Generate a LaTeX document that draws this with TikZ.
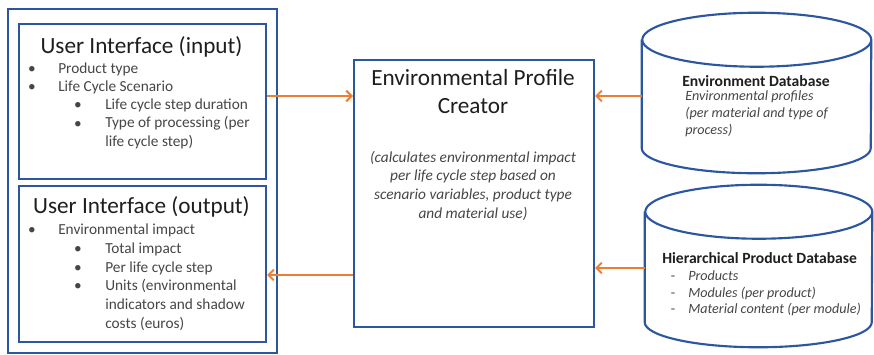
\documentclass[tikz,border=0pt]{standalone}
\usepackage{fontspec}
\setmainfont{Carlito}
\usetikzlibrary{arrows.meta}

\definecolor{boxblue}{RGB}{44,87,160}
\definecolor{flowor}{RGB}{237,125,49}
\definecolor{headgray}{RGB}{30,30,30}
\definecolor{itemgray}{RGB}{70,70,70}

\newcommand{\pix}{0.75pt}

\tikzset{
	frame/.style={draw=boxblue, line width=1.6pt, fill=white, anchor=north west, inner sep=0pt},
	dbbody/.style={inner sep=0pt},
	dbline/.style={draw=boxblue, line width=1.6pt},
	flow/.style={draw=flowor, line width=1.5pt, -{Straight Barb[length=4pt,width=8pt]}},
	head/.style={inner sep=0pt, text=headgray, font=\fontsize{17.4}{21}\selectfont},
	item/.style={anchor=base west, inner sep=0pt, align=left, text=itemgray, font=\fontsize{11.5}{13.7}\selectfont},
	dot/.style={anchor=base, inner sep=0pt, text=itemgray, font=\fontsize{11.5}{13.7}\selectfont},
	dbhead/.style={anchor=base west, inner sep=0pt, text=headgray, font=\fontsize{11.7}{14}\selectfont\bfseries},
	dbtext/.style={anchor=base west, inner sep=0pt, align=left, text=itemgray, font=\fontsize{10.6}{12.4}\selectfont\itshape}
}

% cylinder outline around a named body node: #1 node, #2 half width, #3 top radius, #4 bottom radius
\newcommand{\dbdrum}[4]{
	\draw[dbline] ([yshift=-#3*\pix]#1.north west) -- ([yshift=#4*\pix]#1.south west)
		arc[start angle=180, end angle=360, x radius=#2*\pix, y radius=#4*\pix]
		-- ([yshift=-#3*\pix]#1.north east)
		arc[start angle=0, end angle=180, x radius=#2*\pix, y radius=#3*\pix]
		arc[start angle=180, end angle=360, x radius=#2*\pix, y radius=#3*\pix];
}

\begin{document}
\begin{tikzpicture}[x=0.75pt, y=-0.75pt]
		\useasboundingbox (0,0) rectangle (874,354);
		
		% user interface panels
		\node[frame, minimum width=269*\pix, minimum height=344*\pix] (ui) at (7,8) {};
		\node[frame, minimum width=247*\pix, minimum height=155*\pix] (uiin) at (18,23) {};
		\node[frame, minimum width=247*\pix, minimum height=156*\pix] (uiout) at (18,185) {};
		
		\node[head, anchor=base] (intitle) at (141.5,53) {User Interface (input)};
		\foreach \y/\t in {73/Product type, 91/Life Cycle Scenario}
		{
			\node[dot] (indot\y) at (32,\y) {•};
			\node[item] (initem\y) at (58,\y) {\t};
		}
		\node[dot] (indot109) at (78,109) {•};
		\node[item] (initem109) at (105,109) {Life cycle step duration};
		\node[dot] (indot128) at (78,128) {•};
		% multi-line nodes sit on their last baseline
		\node[item] (initem128) at (105,146) {Type of processing (per\\life cycle step)};
		
		\node[head, anchor=base] (outtitle) at (141.5,213) {User Interface (output)};
		\node[dot] (outdot234) at (32,234) {•};
		\node[item] (outitem234) at (58,234) {Environmental impact};
		\foreach \y/\t in {253/Total impact, 272/Per life cycle step}
		{
			\node[dot] (outdot\y) at (78,\y) {•};
			\node[item] (outitem\y) at (105,\y) {\t};
		}
		\node[dot] (outdot290) at (78,290) {•};
		\node[item, font=\fontsize{11.5}{14.2}\selectfont] (outitem290) at (105,328) {Units (environmental\\indicators and shadow\\costs (euros)};
		
		% profile creator
		\node[frame, minimum width=240*\pix, minimum height=267*\pix] (epc) at (353,59) {};
		\node[head, anchor=base, align=center] (epctitle) at (473,113) {Environmental Profile\\Creator};
		\node[item, anchor=base, align=center, font=\fontsize{11.5}{14}\selectfont\itshape] (epcnote) at (473,218)
			{(calculates environmental impact\\per life cycle step based on\\scenario variables, product type\\and material use)};
		
		% databases
		\node[dbbody, minimum width=229*\pix, minimum height=160*\pix] (envdb) at (756.5,93) {};
		\dbdrum{envdb}{114.5}{27}{25}
		\node[dbhead] (envtitle) at (682,86) {Environment Database};
		\node[dbtext] (envnote) at (685,134) {Environmental profiles\\(per material and type of\\process)};
		
		\node[dbbody, minimum width=227*\pix, minimum height=162*\pix] (proddb) at (758.5,266) {};
		\dbdrum{proddb}{113.5}{27}{25}
		\node[dbhead] (prodtitle) at (662,263) {Hierarchical Product Database};
		\foreach \y/\t in {280/Products, 297/Modules (per product), 313/Material content (per module)}
		{
			\node[dot, font=\fontsize{10.6}{12.4}\selectfont] (proddash\y) at (673,\y) {-};
			\node[dbtext] (proditem\y) at (688,\y) {\t};
		}
		
		% data flow
		\coordinate (lvtop) at (0,96);
		\coordinate (lvbot) at (0,275);
		\coordinate (rvbot) at (0,268);
		\draw[flow] (uiin.east |- lvtop) -- (epc.west |- lvtop);
		\draw[flow] (epc.west |- lvbot) -- (uiout.east |- lvbot);
		\draw[flow] (envdb.west |- lvtop) -- (epc.east |- lvtop);
		\draw[flow] (proddb.west |- rvbot) -- (epc.east |- rvbot);
\end{tikzpicture}
\end{document}
